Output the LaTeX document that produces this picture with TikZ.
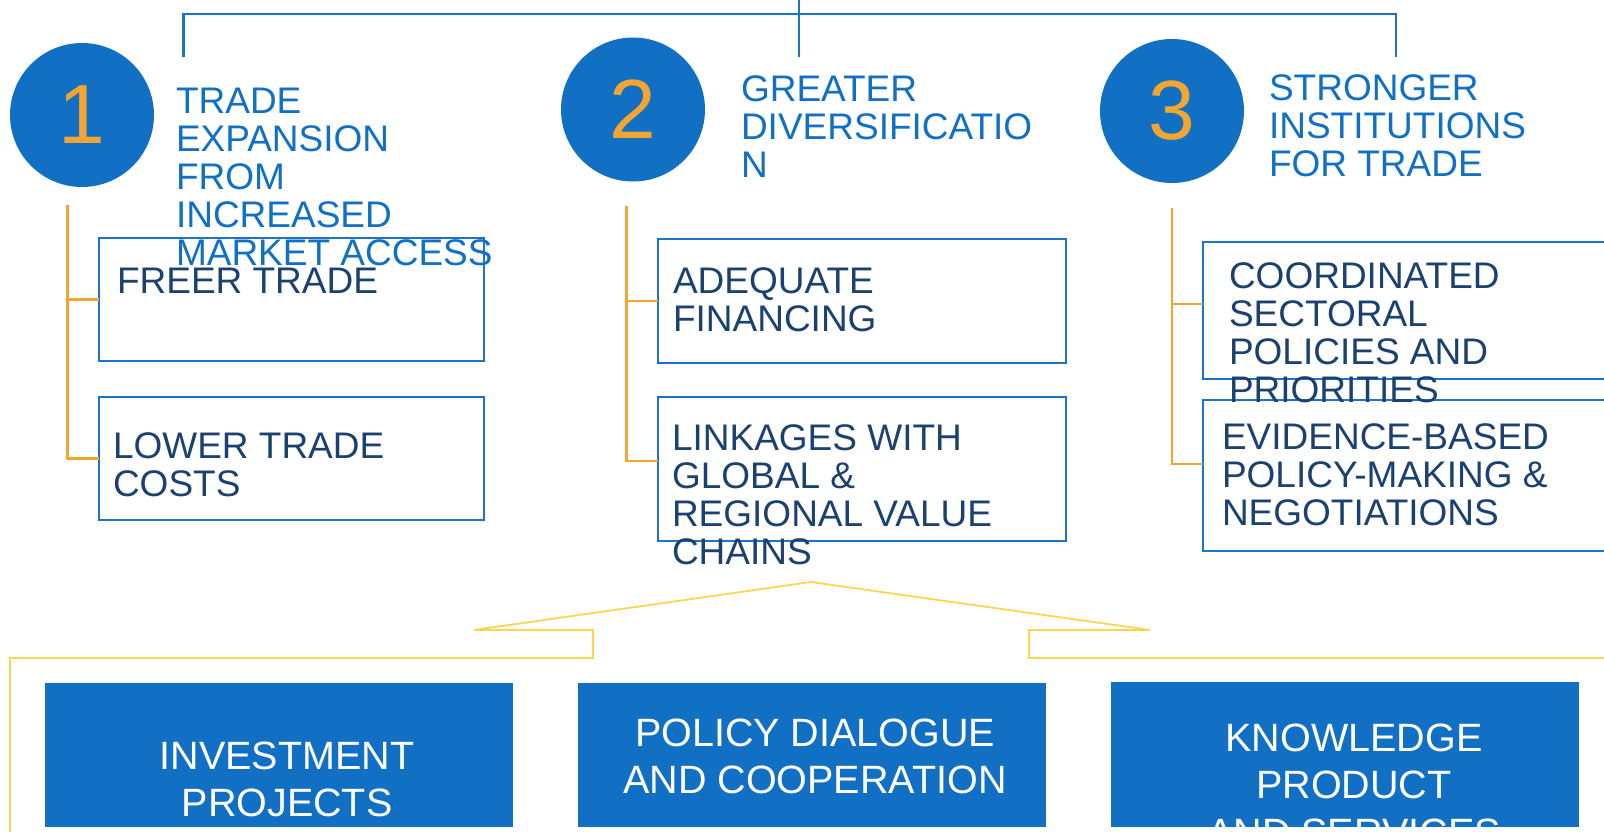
\documentclass[tikz,border=0pt]{standalone}
\usepackage{fontspec}
\setmainfont{Liberation Sans}

\definecolor{tblue}{HTML}{1170C4}
\definecolor{frame}{HTML}{1B74C9}
\definecolor{navy}{HTML}{1A416F}
\definecolor{amber}{HTML}{F2A531}
\definecolor{gold}{HTML}{FFD451}

\begin{document}
\begin{tikzpicture}[
        x=1pt, y=-1pt,
        num/.style={circle, fill=tblue, minimum size=144pt, text=amber,
            font=\fontsize{84}{84}\selectfont},
        title/.style={anchor=base west, align=left, text=tblue,
            font=\fontsize{37}{38}\selectfont},
        box/.style={draw=frame, line width=2.8pt, anchor=north west},
        boxtext/.style={anchor=base west, align=left, text=navy,
            font=\fontsize{37}{38}\selectfont},
        action/.style={fill=tblue, anchor=north west, minimum width=468pt},
        acttext/.style={anchor=base, align=center, text=white,
            font=\fontsize{39.5}{47.5}\selectfont},
        rail/.style={draw=frame, line width=2.2pt},
        branch/.style={draw=amber, line width=2.2pt},
        fan/.style={draw=gold, line width=1.8pt}
    ]

    \tikzstyle{every node}=[inner sep=0pt, outer sep=0pt]

    \useasboundingbox (0,0) rectangle (1604,832);
    \clip (0,0) rectangle (1604,832);

    % top bracket
    \coordinate (root) at (798.6,0);
    \coordinate (j1) at (183.5,57);
    \coordinate (j2) at (798.6,57);
    \coordinate (j3) at (1396,57);
    \draw[rail] (j1) |- (j3 |- 0,14) -- (j3);
    \draw[rail] (root) -- (j2);

    % the three pillars
    \node[num] (c1) at (82,115) {1};
    \node[num] (c2) at (633,109.5) {2};
    \node[num] (c3) at (1172,111) {3};

    % outcome boxes
    \node[box, minimum width=385pt, minimum height=123pt] (b11) at (99,238) {};
    \node[box, minimum width=385pt, minimum height=123pt] (b12) at (99,397) {};
    \node[box, minimum width=408pt, minimum height=124pt] (b21) at (658,239) {};
    \node[box, minimum width=408pt, minimum height=144pt] (b22) at (658,397) {};
    \node[box, minimum width=450pt, minimum height=137pt] (b31) at (1203,242) {};
    \node[box, minimum width=450pt, minimum height=151pt] (b32) at (1203,400) {};

    % branches
    \coordinate (v1) at (67.5,205);
    \coordinate (v2) at (626.5,206);
    \coordinate (v3) at (1172,208);
    \draw[branch] (v1) |- (b12.west);
    \draw[branch] (v1 |- b11.west) -- (b11.west);
    \draw[branch] (v2) |- (b22.west |- 0,461);
    \draw[branch] (v2 |- b21.west) -- (b21.west);
    \draw[branch] (v3) |- (b32.west |- 0,464);
    \draw[branch] (v3 |- 0,304) -- (b31.west |- 0,304);

    % titles (placed at the baseline of their last line)
    \node[title] (h1) at (176,265) {TRADE\\EXPANSION\\FROM\\INCREASED\\MARKET ACCESS};
    \node[title] (h2) at (741,178) {GREATER\\DIVERSIFICATIO\\N};
    \node[title] (h3) at (1269,176) {STRONGER\\INSTITUTIONS\\FOR TRADE};

    % box texts
    \node[boxtext] (t11) at (117,293) {FREER TRADE};
    \node[boxtext] (t12) at (113,496) {LOWER TRADE\\COSTS};
    \node[boxtext] (t21) at (673,331) {ADEQUATE\\FINANCING};
    \node[boxtext] (t22) at (672,564) {LINKAGES WITH\\GLOBAL \&\\REGIONAL VALUE\\CHAINS};
    \node[boxtext] (t31) at (1229,402) {COORDINATED\\SECTORAL\\POLICIES AND\\PRIORITIES};
    \node[boxtext] (t32) at (1222,525) {EVIDENCE-BASED\\POLICY-MAKING \&\\NEGOTIATIONS};

    % fan out to the means of action
    \coordinate (apex) at (811,582);
    \coordinate (wl) at (474,630);
    \coordinate (wr) at (1150,630);
    \draw[fan] (wl) -- (apex) -- (wr);
    \draw[fan] (wl) -| (593,658) -| (10,840);
    \draw[fan] (wr) -| (1029,658) -- (1610,658);

    % means of action
    \node[action, minimum height=144pt] (a1) at (45,683) {};
    \node[action, minimum height=144pt] (a2) at (578,683) {};
    \node[action, minimum height=145pt] (a3) at (1111,682) {};
    \begin{scope}
        \clip (a1.north west) rectangle (a3.south east);
        \node[acttext] (s1) at (287,816.5) {INVESTMENT\\PROJECTS};
        \node[acttext] (s2) at (815,793.5) {POLICY DIALOGUE\\AND COOPERATION};
        \node[acttext] (s3) at (1354,846) {KNOWLEDGE\\PRODUCT\\AND SERVICES};
    \end{scope}

\end{tikzpicture}
\end{document}
